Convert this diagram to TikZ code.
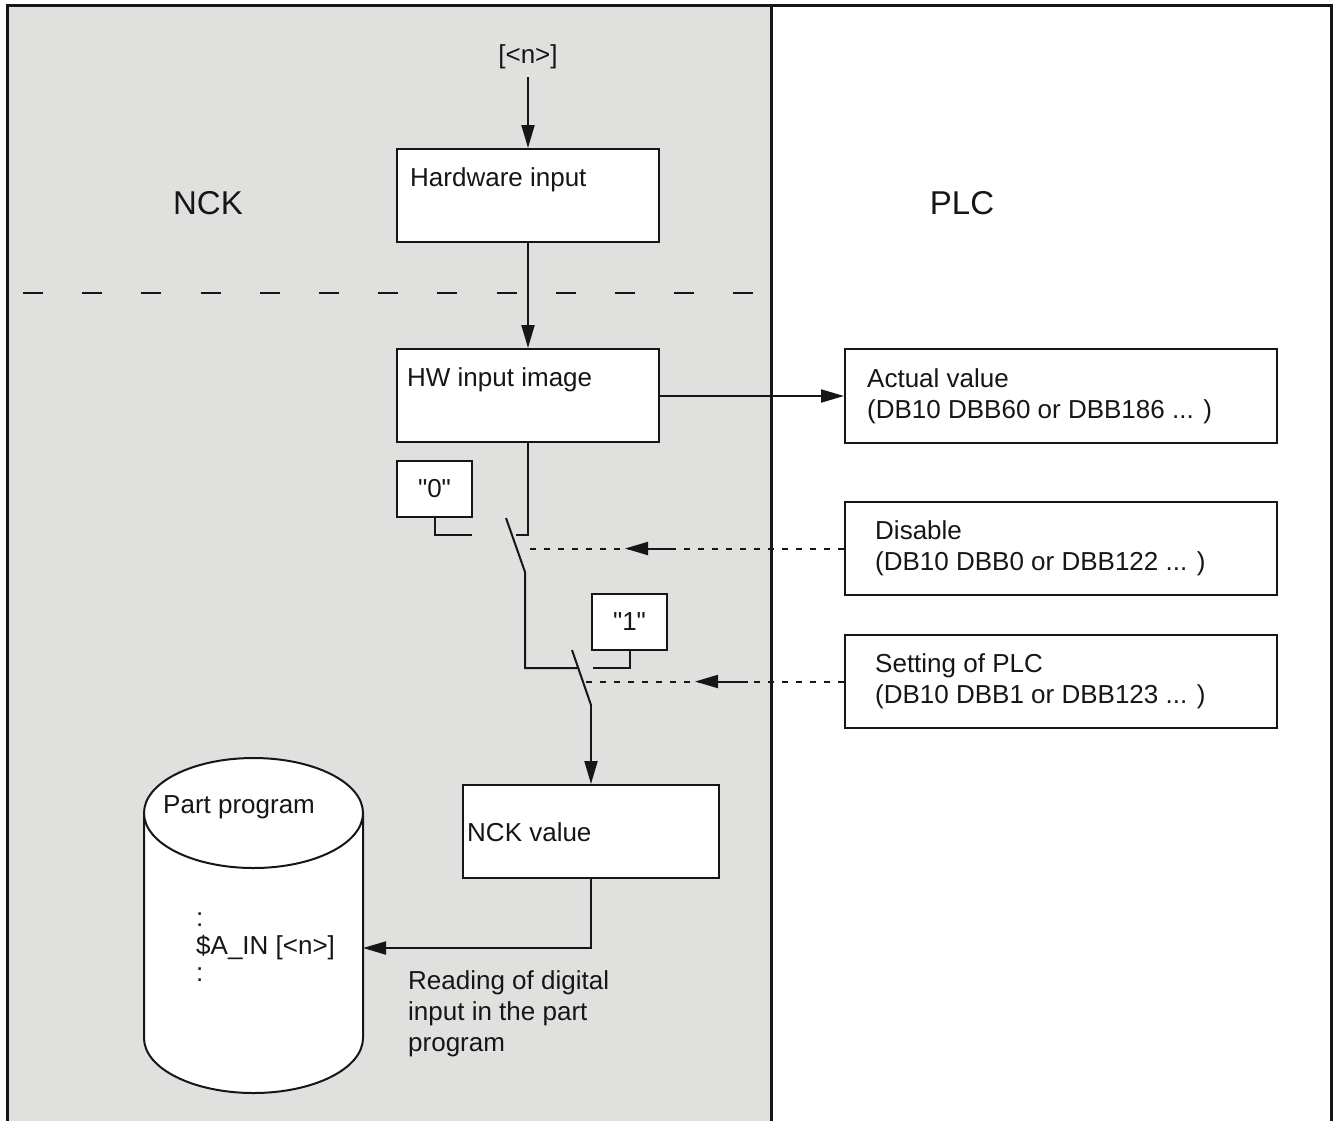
\documentclass[tikz,border=0pt]{standalone}
\usepackage{fontspec}
\setmainfont{Liberation Sans}
\newfontfamily\qfont{Liberation Sans}[Ligatures=TeXOff]
\usetikzlibrary{arrows.meta}
\definecolor{panel}{RGB}{224,224,223}
\definecolor{ink}{RGB}{22,22,22}
\begin{document}
\begin{tikzpicture}[x=1pt,y=-1pt,
  line/.style={draw=ink,line width=2pt},
  arr/.style={draw=ink,line width=2pt,-{Triangle[length=23pt,width=13pt]}},
  box/.style={draw=ink,line width=2pt,fill=white,inner sep=0pt,rectangle},
  txt/.style={font=\fontsize{26}{31}\selectfont,text=ink,inner sep=0pt,align=left},
  big/.style={font=\fontsize{33}{37}\selectfont,text=ink,inner sep=0pt},
  dots/.style={draw=ink,line width=2pt,dash pattern=on 6pt off 8pt},
  cyl/.style={draw=ink,line width=2pt,fill=white},
]
\useasboundingbox (0,0) rectangle (1337,1120);
% panels
\fill[panel] (7,5) rectangle (771,1122);
\draw[ink,line width=3pt] (7,1124) -- (7,5) -- (1331,5) -- (1331,1124);
\draw[ink,line width=3pt] (771,5) -- (771,1124);
% dashed boundary
\draw[ink,line width=2.5pt,dash pattern=on 20pt off 39.2pt] (23,293) -- (757,293);

% labels
\node[big] (nck) at (208,203) {NCK};
\node[big] (plc) at (962,203) {PLC};

% boxes
\node[box,minimum width=262pt,minimum height=93pt] (hwin) at (528,195.5) {};
\node[txt,anchor=west] (thwin) at (410,180) {Hardware input};
\node[box,minimum width=262pt,minimum height=93pt] (hwimg) at (528,395.5) {};
\node[txt,anchor=west] (thwimg) at (407,380) {HW input image};
\node[box,minimum width=432pt,minimum height=94pt] (actual) at (1061,396) {};
\node[txt,anchor=west] (tactual) at (867,396) {Actual value\\(DB10 DBB60 or DBB186 ... )};
\node[box,minimum width=432pt,minimum height=93pt] (disable) at (1061,548.5) {};
\node[txt,anchor=west] (tdisable) at (875,548.5) {Disable\\(DB10 DBB0 or DBB122 ... )};
\node[box,minimum width=432pt,minimum height=93pt] (setting) at (1061,681.5) {};
\node[txt,anchor=west] (tsetting) at (875,681.5) {Setting of PLC\\(DB10 DBB1 or DBB123 ... )};
\node[box,minimum width=75pt,minimum height=56pt,font=\qfont\fontsize{26}{31}\selectfont,text=ink] (zero) at (434.5,489) {"0"};
\node[box,minimum width=75pt,minimum height=56pt,font=\qfont\fontsize{26}{31}\selectfont,text=ink] (one) at (629.5,622) {"1"};
\node[box,minimum width=256pt,minimum height=93pt] (nckv) at (591,831.5) {};
\node[txt,anchor=west] (tnckv) at (467,832) {NCK value};

% input
\node[txt] (nin) at (528,57) {[<n>]};
\coordinate (ninS) at (528,77);
\draw[arr] (ninS) -- (hwin.north);
\draw[arr] (hwin.south) -- (hwimg.north);
\draw[arr] (hwimg.east |- actual.west) -- (actual.west);

% switches
\coordinate (b1t) at (506,518);
\coordinate (b1b) at (525,572);
\coordinate (b2t) at (572,650);
\coordinate (b2b) at (591,705);
\draw[line] (hwimg.south) -- (528,535) -- (516,535);
\draw[line] (zero.south) -- (434.5,535) -- (472,535);
\draw[line] (b1t) -- (b1b) -- (525,668) -- (578,668);
\draw[line] (b2t) -- (b2b);
\draw[line] (one.south) -- (629.5,668) -- (593,668);
\draw[arr] (b2b) -- (nckv.north);

% control lines
\coordinate (d1) at (528,548.5);
\coordinate (d1a) at (672,548.5);
\coordinate (d1b) at (625,548.5);
\draw[dots] (disable.west) -- (d1);
\draw[arr] (d1a) -- (d1b);
\coordinate (s1) at (585,681.5);
\coordinate (s1a) at (748,681.5);
\coordinate (s1b) at (695,681.5);
\draw[dots] (setting.west) -- (s1);
\draw[arr] (s1a) -- (s1b);

% cylinder
\draw[cyl] (144,813) -- (144,1038) arc[start angle=180,end angle=0,x radius=109.5,y radius=55] -- (363,813);
\draw[cyl] (253.5,813) ellipse[x radius=109.5,y radius=55];
\node[txt,anchor=west] (tpart) at (163,807) {Part program};
\node[txt,anchor=west] (c1) at (196,920) {:};
\node[txt,anchor=west] (ain) at (196,948) {\$A\_IN [<n>]};
\node[txt,anchor=west] (c2) at (196,975) {:};
\coordinate (cylR) at (363,948);
\draw[arr] (nckv.south) |- (cylR);
\node[txt,anchor=north west] (tread) at (408,970) {Reading of digital\\input in the part\\program};
\end{tikzpicture}
\end{document}
